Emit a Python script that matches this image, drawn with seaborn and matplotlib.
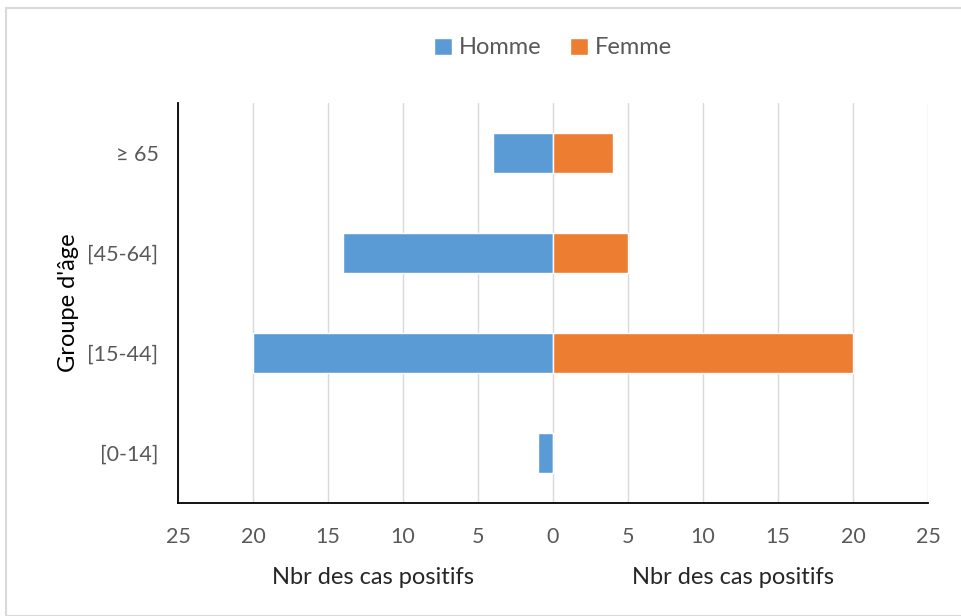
import numpy as np
import pandas as pd
import seaborn as sns
import matplotlib.pyplot as plt
from matplotlib.ticker import FuncFormatter, MultipleLocator
from matplotlib.patches import Rectangle

sns.set_style('white')
plt.rcParams['font.family'] = ['Lato', 'DejaVu Sans']

groups = ['≥ 65', '[45-64]', '[15-44]', '[0-14]']
homme = [4, 14, 20, 1]
femme = [4, 5, 20, 0]

df = pd.DataFrame({'groupe': groups,
                   'Homme': [-v for v in homme],
                   'Femme': femme})

fig = plt.figure(figsize=(9.62, 6.16), dpi=100)
ax = fig.add_axes([178/962, 1 - 503/616, 750/962, 400/616])

sns.barplot(data=df, x='Homme', y='groupe', order=groups, color='#5B9BD5',
            width=0.4, saturation=1, ax=ax, label='Homme', orient='h')
sns.barplot(data=df, x='Femme', y='groupe', order=groups, color='#ED7D31',
            width=0.4, saturation=1, ax=ax, label='Femme', orient='h')

ax.set_xlim(-25, 25)
ax.set_ylim(3.5, -0.5)
ax.xaxis.set_major_locator(MultipleLocator(5))
ax.xaxis.set_major_formatter(FuncFormatter(lambda v, p: f'{abs(int(round(v)))}'))
ax.grid(axis='x', color='#d9d9d9', linewidth=1)
ax.set_axisbelow(True)
ax.tick_params(axis='both', length=0, labelsize=15.5, labelcolor='#595959')
ax.tick_params(axis='x', pad=17)
ax.tick_params(axis='y', pad=14)
for s in ['top', 'right']:
    ax.spines[s].set_visible(False)
for s in ['left', 'bottom']:
    ax.spines[s].set_color('black')
    ax.spines[s].set_linewidth(1.3)

ax.set_xlabel('')
ax.set_ylabel("Groupe d'âge", fontsize=17, color='black', labelpad=6)
if ax.legend_:
    ax.legend_.remove()

fig.text(373/962, 1 - 577/616, 'Nbr des cas positifs', ha='center', va='center', fontsize=17)
fig.text(733/962, 1 - 577/616, 'Nbr des cas positifs', ha='center', va='center', fontsize=17)

handles, labels = ax.get_legend_handles_labels()
fig.legend(handles, labels, loc='center', bbox_to_anchor=(553/962, 1 - 48/616),
           ncol=2, frameon=False, fontsize=17, handlelength=0.75, handleheight=0.75,
           handletextpad=0.3, columnspacing=1.2, labelcolor='#595959')

fig.patches.append(Rectangle((6/962, 0), 1, 1 - 8/616, transform=fig.transFigure,
                             fill=False, edgecolor='#d9d9d9', linewidth=1.5))

plt.savefig('out.png', dpi=100)
